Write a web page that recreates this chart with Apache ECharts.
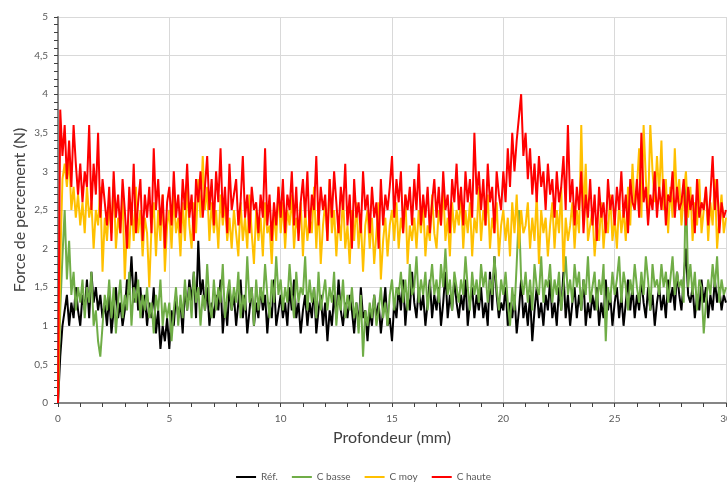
<!DOCTYPE html>
<html>
<head>
<meta charset="utf-8">
<script src="https://cdn.jsdelivr.net/npm/echarts@6/dist/echarts.min.js"></script>
<style>html,body{margin:0;padding:0;background:#fff}#c{width:727px;height:483px}</style>
</head>
<body>
<div id="c"></div>
<script>
// Depth sampling: one reading every 0.1 mm, 0 to 30 mm
const depthStep = 0.1;
const seriesNames = ['Réf.', 'C basse', 'C moy', 'C haute'];
const xTicks = [0, 5, 10, 15, 20, 25, 30];

const ref = [
0,0.6,1.0,1.2,1.4,1.0,1.3,1.1,1.5,1.2,
1.0,1.4,1.2,1.6,1.1,1.7,1.3,1.5,1.2,1.4,
1.1,1.3,1.0,1.4,0.9,1.2,1.5,1.1,1.3,1.0,
1.2,1.6,1.4,1.9,1.3,1.7,1.2,1.5,1.1,1.4,
1.0,1.3,1.1,1.5,0.9,1.2,0.7,1.0,0.8,1.1,
0.7,1.2,1.0,1.4,1.1,1.3,0.9,1.5,1.2,1.6,
1.3,1.7,1.1,2.1,1.4,1.6,1.2,1.5,1.0,1.3,
1.1,1.4,1.2,1.6,0.9,1.3,1.0,1.5,1.2,1.4,
1.0,1.3,1.6,1.1,1.4,0.9,1.2,1.5,1.0,1.3,
1.1,1.5,1.2,1.4,0.9,1.3,1.1,1.6,1.0,1.2,
1.4,1.1,1.3,1.0,1.5,1.2,1.6,1.1,1.3,0.9,
1.2,1.4,1.0,1.3,1.1,1.5,0.9,1.2,1.4,1.0,
1.3,0.8,1.2,1.0,1.4,1.1,1.6,1.2,1.0,1.3,
1.1,1.4,1.2,0.9,1.3,1.0,1.5,1.1,1.2,0.8,
1.2,1.0,1.4,1.1,1.3,0.9,1.2,1.5,1.0,1.1,
0.8,1.3,1.1,1.5,1.2,1.6,1.0,1.4,1.2,1.7,
1.3,1.1,1.5,1.2,1.4,1.0,1.3,1.6,1.1,1.4,
1.2,1.5,1.0,1.3,1.7,1.1,1.4,1.2,1.6,1.3,
1.1,1.4,1.2,1.6,1.0,1.3,1.5,1.1,1.4,1.2,
1.5,1.1,1.3,1.0,1.7,1.2,1.9,1.4,1.1,1.3,
1.2,1.5,1.0,1.3,1.1,1.4,0.9,1.2,1.6,1.1,
1.3,1.0,1.4,0.8,1.2,1.5,1.1,1.3,1.0,1.4,
1.2,1.6,1.1,1.3,1.0,1.5,1.2,1.7,1.1,1.4,
1.0,1.3,1.5,1.1,1.4,1.2,1.6,1.0,1.3,1.1,
1.4,1.2,1.5,1.0,1.3,1.1,1.6,1.2,1.4,1.0,
1.3,1.5,1.1,1.4,1.0,1.3,1.6,1.2,1.5,1.1,
1.4,1.2,1.6,1.3,1.1,1.5,1.2,1.4,1.0,1.3,
1.5,1.2,1.4,1.1,1.6,1.3,1.5,1.2,1.7,1.4,
1.2,1.6,2.0,1.4,1.3,1.5,1.1,1.4,1.2,1.6,
1.3,1.5,1.1,1.4,1.2,1.6,1.3,1.5,1.2,1.4,
1.3];

const cBasse = [
0,1.2,1.9,2.5,1.6,2.1,1.4,1.7,1.2,1.5,
1.3,1.6,1.1,1.5,1.3,1.7,1.0,1.2,0.8,0.6,
1.0,1.4,1.2,1.6,1.1,1.5,0.9,1.3,1.6,1.1,
1.4,1.2,1.7,1.0,1.5,1.3,1.6,1.1,1.4,1.2,
1.5,1.1,1.3,0.9,1.4,1.2,1.6,1.0,1.3,1.1,
1.3,0.8,1.2,1.5,1.0,1.4,1.1,1.6,1.2,1.5,
1.1,1.7,1.3,1.5,1.0,1.4,1.2,1.8,1.3,1.1,
1.6,1.2,1.5,1.3,1.8,1.1,1.4,1.6,1.2,1.5,
1.3,1.7,1.1,1.4,1.2,1.9,1.3,1.5,1.0,1.6,
1.2,1.5,1.3,1.8,1.4,1.1,1.6,1.3,1.9,1.4,
1.6,1.2,1.5,1.3,1.8,1.4,1.1,1.7,1.3,1.5,
1.4,1.9,1.2,1.6,1.3,1.5,1.1,1.7,1.2,1.4,
1.6,1.2,1.5,1.3,1.7,1.0,1.4,1.2,1.6,1.1,
1.4,1.2,1.5,1.1,1.3,0.9,1.4,0.6,1.2,1.0,
1.3,1.1,1.4,1.0,1.2,1.5,1.1,1.3,1.0,1.4,
1.6,1.2,1.5,1.4,1.7,1.3,1.6,1.2,1.8,1.4,
1.5,1.9,1.3,1.6,1.4,1.7,1.2,1.5,1.8,1.4,
1.6,1.3,1.8,1.5,2.0,1.4,1.6,1.2,1.7,1.5,
1.3,1.6,1.4,1.9,1.5,1.2,1.7,1.4,1.6,1.3,
1.8,1.5,1.7,1.3,1.6,1.4,1.9,1.5,1.2,1.6,
1.4,1.7,1.3,1.0,1.5,1.2,1.8,2.5,1.6,1.4,
1.7,1.3,1.6,1.2,1.8,1.5,1.4,1.9,1.3,1.6,
1.5,1.8,1.3,1.6,1.4,1.7,1.2,1.5,1.9,1.4,
1.6,1.3,1.8,1.5,1.7,1.2,1.6,1.4,1.9,1.3,
1.5,1.7,1.2,1.6,1.4,1.8,0.8,1.5,1.3,1.7,
1.4,1.6,1.9,1.3,1.7,1.5,1.2,1.6,1.4,1.8,
1.5,1.3,1.7,1.4,1.9,1.6,1.2,1.8,1.5,1.6,
1.4,1.8,1.5,1.7,1.3,1.6,1.9,1.4,1.7,1.5,
1.6,1.3,2.9,1.5,1.8,1.4,1.7,1.2,1.6,1.5,
0.9,1.3,1.6,1.4,1.8,1.5,1.9,1.3,1.6,1.4,
1.5];

const cMoy = [
0,1.8,2.9,3.1,2.8,3.2,2.5,2.8,2.4,2.7,
2.3,2.6,2.2,2.8,2.4,2.6,2.0,2.5,2.3,2.8,
1.7,2.4,2.1,2.6,2.2,2.9,2.0,2.4,2.2,2.7,
1.6,2.3,2.0,2.6,2.1,2.8,2.2,2.5,1.9,2.4,
2.2,1.5,2.3,2.6,1.9,2.5,2.1,2.7,1.7,2.3,
2.5,2.0,2.7,2.2,2.4,1.9,2.6,2.1,2.8,2.3,
2.0,2.6,2.2,2.9,2.4,3.2,2.5,2.8,2.1,2.6,
2.2,2.5,2.0,2.7,2.3,2.6,2.1,2.4,2.0,2.5,
2.2,1.9,2.6,2.1,2.4,2.0,2.7,2.2,1.8,2.5,
2.1,2.4,1.9,2.6,2.2,2.3,1.8,2.5,2.1,2.8,
2.2,2.6,2.0,2.5,2.3,2.7,2.0,2.4,2.2,2.6,
1.9,2.5,2.1,2.4,2.2,2.8,2.0,2.6,1.8,2.3,
2.6,2.1,2.9,2.2,2.5,1.9,2.4,2.1,2.7,2.0,
2.3,1.8,2.5,2.1,2.6,2.0,2.4,1.7,2.3,2.5,
2.0,2.4,1.8,2.2,2.6,1.6,2.1,2.4,1.9,2.3,
2.5,2.1,2.6,2.0,2.4,2.2,2.7,1.8,2.3,2.1,
2.4,2.0,2.5,2.2,2.6,1.9,2.3,2.1,2.7,2.2,
2.0,2.5,2.3,2.8,2.1,2.4,1.9,2.6,2.2,2.5,
2.3,2.7,2.0,2.5,2.2,2.6,1.9,2.4,2.2,2.8,
2.1,2.5,2.3,2.7,2.0,2.4,2.2,2.6,1.9,2.3,
2.5,2.1,2.4,1.9,2.6,2.2,2.7,2.0,2.5,2.2,
2.3,2.6,2.0,2.4,2.1,2.7,1.8,2.5,2.2,2.4,
1.9,2.3,2.6,2.0,2.5,2.2,2.8,1.7,2.4,2.1,
2.3,2.6,2.0,2.5,2.2,3.6,2.4,3.1,2.1,2.3,
2.5,1.9,2.3,2.1,2.6,2.0,2.4,2.2,2.7,2.1,
2.4,2.0,2.6,2.2,2.5,2.1,2.8,2.3,3.1,2.5,
2.8,3.3,2.4,3.6,2.9,2.5,3.6,3.0,2.6,3.2,
2.7,3.4,2.5,2.9,2.2,2.8,2.4,3.3,2.6,2.9,
2.3,2.7,3.0,2.4,2.8,2.1,2.6,2.3,2.9,2.2,
2.5,2.8,2.1,2.6,2.3,2.9,2.0,2.4,2.7,2.2,
2.4];

const cHaute = [
0,3.8,3.2,3.6,2.9,3.4,2.8,3.6,3.1,2.7,
3.1,2.6,3.0,2.8,3.6,2.5,3.1,2.7,3.5,2.4,
2.9,2.6,2.3,2.8,2.1,3.0,2.4,2.7,2.2,2.9,
2.5,2.0,2.8,2.3,3.1,2.2,2.6,2.9,2.1,2.7,
2.4,2.8,2.2,3.3,2.5,2.9,2.3,2.7,2.0,2.6,
2.8,2.3,3.0,2.4,2.7,2.2,2.9,2.5,3.1,2.4,
2.7,2.1,2.9,2.6,3.0,2.4,2.8,3.2,2.5,2.9,
2.3,3.0,2.6,3.3,2.4,2.8,2.2,3.1,2.5,2.7,
2.9,2.3,2.6,3.2,2.4,2.7,2.2,2.8,2.5,2.6,
2.2,2.7,2.4,3.3,2.3,2.7,2.1,2.6,2.3,2.8,
2.4,2.9,2.2,2.7,2.5,3.0,2.3,2.8,2.1,2.6,
2.9,2.4,3.0,2.2,2.7,2.5,3.2,2.3,2.8,2.5,
2.7,2.1,2.9,2.4,3.0,2.6,2.2,2.8,2.5,3.1,
2.3,2.7,2.0,2.9,2.4,2.6,2.2,3.0,2.5,2.7,
2.2,2.8,2.4,2.6,2.0,2.9,2.3,2.7,2.5,2.8,
3.2,2.4,2.9,2.6,3.0,2.2,2.7,2.5,2.8,2.3,
2.9,2.5,3.1,2.3,2.7,2.4,2.8,2.2,2.6,2.9,
2.4,2.8,2.3,3.0,2.5,2.7,2.2,2.9,2.6,3.1,
2.5,2.8,2.3,3.0,2.6,2.9,2.4,3.5,2.7,3.0,
2.5,2.9,2.3,3.1,2.6,2.8,2.2,3.0,2.7,2.5,
3.0,2.6,3.3,2.8,3.5,3.0,3.4,3.7,4.0,3.2,
3.5,2.9,3.3,2.7,3.1,2.6,3.2,2.8,3.0,2.5,
3.1,2.7,2.9,2.4,3.0,2.6,2.8,3.2,2.5,3.6,
2.6,2.9,2.3,2.8,2.5,3.0,2.2,2.7,2.4,2.9,
2.3,2.7,2.1,2.8,2.4,2.6,2.2,2.9,2.5,2.7,
2.3,2.8,2.5,3.0,2.4,2.7,2.2,2.9,2.6,2.5,
2.9,2.4,3.5,2.6,2.8,2.3,2.7,2.5,3.0,2.4,
2.8,2.5,2.9,2.3,2.7,2.6,3.0,2.4,2.8,2.5,
2.6,2.9,2.3,2.8,2.5,2.7,2.2,2.9,2.4,2.6,
2.5,2.8,2.3,2.7,3.2,2.5,2.9,2.2,2.6,2.4,
2.5];

const seriesValues = [ref, cBasse, cMoy, cHaute];
const colors = ['#000000', '#70AD47', '#FFC000', '#FF0000'];

function toPoints(arr) {
  return arr.map((v, i) => [Math.round(i * depthStep * 10) / 10, v]);
}

const chart = echarts.init(document.getElementById('c'), null, { renderer: 'canvas' });
const font = 'Lato, "Open Sans", sans-serif';

chart.setOption({
  animation: false,
  textStyle: { fontFamily: font },
  grid: { left: 58, right: 1, top: 17, bottom: 80, containLabel: false, outerBoundsMode: 'none' },
  legend: {
    top: 467,
    left: 'center',
    icon: 'rect',
    itemWidth: 20,
    itemHeight: 2,
    itemGap: 14,
    textStyle: { fontSize: 10, color: '#595959', fontFamily: font },
    data: seriesNames
  },
  xAxis: {
    type: 'value',
    min: xTicks[0],
    max: xTicks[xTicks.length - 1],
    interval: 5,
    name: 'Profondeur (mm)',
    nameLocation: 'middle',
    nameGap: 27,
    nameMoveOverlap: false,
    nameTextStyle: { fontSize: 16, color: '#404040', fontFamily: font },
    axisLine: { lineStyle: { color: '#868686', width: 2 } },
    axisTick: { show: true, length: 4, lineStyle: { color: '#404040' } },
    minorTick: { show: true, splitNumber: 5, length: 4, lineStyle: { color: '#404040' } },
    axisLabel: { fontSize: 10, color: '#595959', margin: 11, fontFamily: font },
    splitLine: { show: true, lineStyle: { color: '#D9D9D9', width: 1 } }
  },
  yAxis: {
    type: 'value',
    min: 0,
    max: 5,
    interval: 0.5,
    name: 'Force de percement (N)',
    nameLocation: 'middle',
    nameGap: 30,
    nameMoveOverlap: false,
    nameTextStyle: { fontSize: 16, color: '#404040', fontFamily: font },
    axisLine: { show: true, lineStyle: { color: '#868686', width: 2 } },
    axisTick: { show: true, length: 4, lineStyle: { color: '#404040' } },
    minorTick: { show: true, splitNumber: 5, length: 4, lineStyle: { color: '#404040' } },
    axisLabel: {
      fontSize: 10, color: '#595959', margin: 10, fontFamily: font,
      formatter: v => String(v).replace('.', ',')
    },
    splitLine: { show: true, lineStyle: { color: '#D9D9D9', width: 1 } }
  },
  series: seriesValues.map((arr, k) => ({
    name: seriesNames[k],
    type: 'line',
    data: toPoints(arr),
    showSymbol: false,
    symbol: 'none',
    color: colors[k],
    lineStyle: { color: colors[k], width: 2 },
    z: 2 + k
  }))
});
</script>
</body>
</html>
